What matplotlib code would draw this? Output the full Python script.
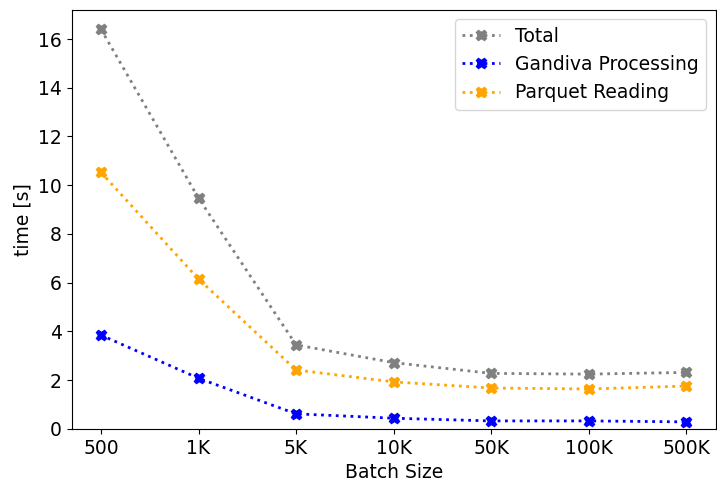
import matplotlib.pyplot as plt

batch_sizes = ['500', '1K', '5K', '10K', '50K', '100K', '500K']
total = [16.4, 9.47, 3.45, 2.72, 2.28, 2.25, 2.32]
gandiva = [3.85, 2.08, 0.62, 0.44, 0.33, 0.33, 0.29]
parquet = [10.53, 6.15, 2.42, 1.93, 1.68, 1.64, 1.76]

plt.rcParams['font.size'] = 13.5

fig, ax = plt.subplots(figsize=(7.17, 4.88), dpi=100)
x = range(len(batch_sizes))
ax.plot(x, total, ':', color='gray', marker='X', markersize=7.5, linewidth=2, label='Total')
ax.plot(x, gandiva, ':', color='blue', marker='X', markersize=7.5, linewidth=2, label='Gandiva Processing')
ax.plot(x, parquet, ':', color='orange', marker='X', markersize=7.5, linewidth=2, label='Parquet Reading')

ax.set_xticks(list(x))
ax.set_xticklabels(batch_sizes)
ax.set_xlim(-0.3, 6.3)
ax.set_ylim(0, 17.2)
ax.set_yticks(range(0, 17, 2))
ax.set_xlabel('Batch Size')
ax.set_ylabel('time [s]')
ax.legend(loc='upper right')

fig.subplots_adjust(left=0.1, right=0.998, top=0.98, bottom=0.121)
fig.savefig('out.png')
